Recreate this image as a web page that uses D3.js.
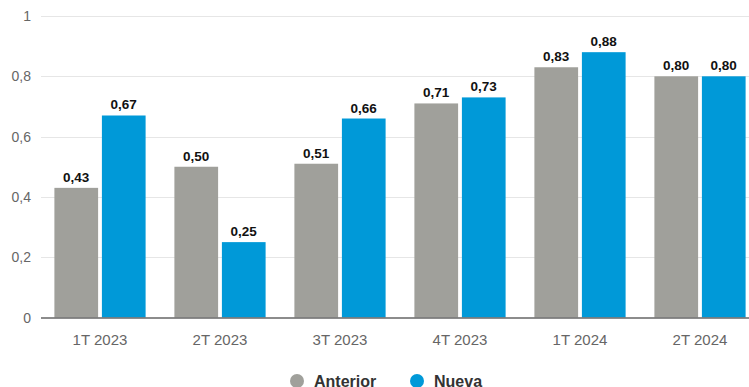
<!DOCTYPE html>
<html>
<head>
<meta charset="utf-8">
<script src="https://cdn.jsdelivr.net/npm/d3@7"></script>
<style>
  body { margin: 0; background: #fff; }
  svg { font-family: "Liberation Sans", Arial, sans-serif; display: block; }
</style>
</head>
<body>
<div id="chart"></div>
<script>
// chart data
var categories = ["1T 2023", "2T 2023", "3T 2023", "4T 2023", "1T 2024", "2T 2024"];
var anterior = [0.43, 0.50, 0.51, 0.71, 0.83, 0.80];
var nueva = [0.67, 0.25, 0.66, 0.73, 0.88, 0.80];
var seriesNames = ["Anterior", "Nueva"];
var seriesColors = ["#a0a09b", "#0099d8"];
var yTicks = [0, 0.2, 0.4, 0.6, 0.8, 1];

var w = 749;
var h = 387;
var fmt = function(v) { return d3.format(".2f")(v).replace(".", ","); };
var tickFmt = function(v) { return String(v).replace(".", ","); };

var svg = d3.select("#chart")
  .append("svg")
  .attr("width", w)
  .attr("height", h);

var x = d3.scaleBand()
  .domain(categories)
  .range([40, 760])
  .paddingInner(0.24)
  .paddingOuter(0.12);

var x1 = d3.scaleBand()
  .domain(seriesNames)
  .range([0, x.bandwidth()])
  .paddingInner(0.08);

var y = d3.scaleLinear()
  .domain([0, 1])
  .range([317.5, 16]);

// gridlines
svg.append("g")
  .selectAll("line")
  .data(yTicks.slice(1))
  .enter()
  .append("line")
  .attr("x1", 41)
  .attr("x2", w)
  .attr("y1", function(d) { return Math.round(y(d)) + 0.5; })
  .attr("y2", function(d) { return Math.round(y(d)) + 0.5; })
  .attr("stroke", "#e6e6e6");

// y labels
svg.append("g")
  .selectAll("text")
  .data(yTicks)
  .enter()
  .append("text")
  .attr("x", 31)
  .attr("y", function(d) { return y(d) + 5; })
  .attr("text-anchor", "end")
  .attr("font-size", 14)
  .attr("fill", "#666")
  .text(tickFmt);

var rows = categories.map(function(c, i) {
  return { cat: c, values: [anterior[i], nueva[i]] };
});

var groups = svg.append("g")
  .selectAll("g")
  .data(rows)
  .enter()
  .append("g")
  .attr("transform", function(d) { return "translate(" + x(d.cat) + ",0)"; });

groups.selectAll("rect")
  .data(function(d) { return d.values.map(function(v, j) { return { s: seriesNames[j], v: v, j: j }; }); })
  .enter()
  .append("rect")
  .attr("x", function(d) { return x1(d.s); })
  .attr("y", function(d) { return y(d.v); })
  .attr("width", x1.bandwidth())
  .attr("height", function(d) { return y(0) - y(d.v); })
  .attr("fill", function(d) { return seriesColors[d.j]; });

groups.selectAll("text")
  .data(function(d) { return d.values.map(function(v, j) { return { s: seriesNames[j], v: v }; }); })
  .enter()
  .append("text")
  .attr("x", function(d) { return x1(d.s) + x1.bandwidth() / 2; })
  .attr("y", function(d) { return y(d.v) - 6; })
  .attr("text-anchor", "middle")
  .attr("font-size", 13.5)
  .attr("font-weight", "bold")
  .attr("fill", "#111")
  .text(function(d) { return fmt(d.v); });

// x axis line
svg.append("line")
  .attr("x1", 41)
  .attr("x2", w)
  .attr("y1", 318)
  .attr("y2", 318)
  .attr("stroke", "#666")
  .attr("stroke-width", 1.5);

svg.append("g")
  .selectAll("text")
  .data(categories)
  .enter()
  .append("text")
  .attr("x", function(d) { return x(d) + x.bandwidth() / 2; })
  .attr("y", 345)
  .attr("text-anchor", "middle")
  .attr("font-size", 15)
  .attr("fill", "#666")
  .text(function(d) { return d; });

// legend
var legendX = [297, 417];
var legend = svg.append("g")
  .selectAll("g")
  .data(seriesNames)
  .enter()
  .append("g")
  .attr("transform", function(d, i) { return "translate(" + legendX[i] + ",381)"; });

legend.append("circle")
  .attr("r", 7)
  .attr("fill", function(d, i) { return seriesColors[i]; });

legend.append("text")
  .attr("x", 17)
  .attr("y", 6)
  .attr("font-size", 16)
  .attr("font-weight", "bold")
  .attr("fill", "#333")
  .text(function(d) { return d; });
</script>
</body>
</html>
